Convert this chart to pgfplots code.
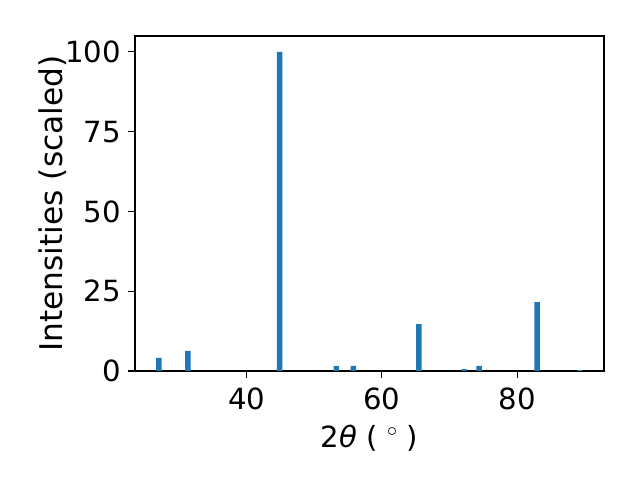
\documentclass[border=0pt]{standalone}
\usepackage{fontspec}
\setmainfont{DejaVu Sans}
\usepackage{pgfplots}
\pgfplotsset{compat=1.18}
\definecolor{mplblue}{HTML}{1F77B4}
\begin{document}
\fontsize{21}{25}\selectfont
\begin{tikzpicture}
\path[use as bounding box] (-97.2pt,-78.5pt) rectangle (363.6pt,267.1pt);
\begin{axis}[
  at={(0,0)}, anchor=origin,
  scale only axis,
  width=337.7pt, height=241.2pt,
  xmin=23.5, xmax=92.85,
  ymin=0, ymax=105,
  xtick={40,60,80},
  ytick={0,25,50,75,100},
  tick align=outside,
  major tick length=4.9pt,
  tick style={line width=0.8pt, black},
  axis line style={line width=0.8pt},
  xtick pos=bottom, ytick pos=left,
  /pgf/number format/assume math mode=true,
  ticklabel style={font=\fontsize{21}{25}\selectfont},
  yticklabel style={xshift=2pt},
  xlabel style={font=\fontsize{21}{25}\selectfont, yshift=3.5pt},
  ylabel style={font=\fontsize{22.5}{26}\selectfont, yshift=-15pt},
  xlabel={2\textit{θ} ( $^{\circ}$ )},
  ylabel={Intensities (scaled)},
]
\addplot[ybar, bar width=0.8, fill=mplblue, draw=none, bar shift=0pt] coordinates {
(27.04,4.1) (31.33,6.3) (44.89,100) (53.26,1.6) (55.78,1.6) (65.48,14.7)
(72.22,0.6) (74.37,1.6) (82.96,21.6) (89.26,0.3)
};
\end{axis}
\end{tikzpicture}
\end{document}
